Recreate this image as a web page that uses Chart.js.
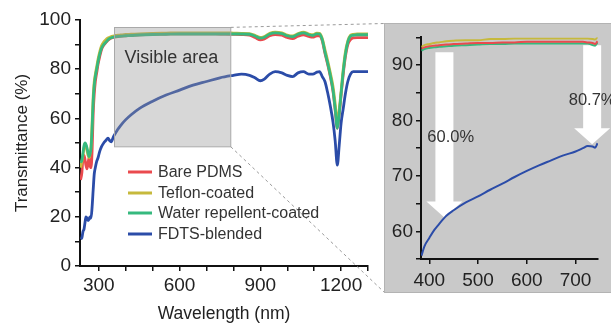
<!DOCTYPE html>
<html><head><meta charset="utf-8">
<script src="https://cdn.jsdelivr.net/npm/chart.js@4/dist/chart.umd.min.js"></script>
<style>
html,body{margin:0;padding:0;overflow:hidden;background:#fff;width:611px;height:325px}
#main{position:absolute;left:0;top:0}
#inset{position:absolute;left:384px;top:23px}
</style></head><body>
<canvas id="main" width="611" height="325"></canvas>
<canvas id="inset" width="240" height="270"></canvas>
<script>
// ---------- data (main panel) ----------
const wavelength = [232,237,241,245,249,252,256,260,264,267,271,275,279,283,287,292,297,303,310,318,326,334,340,346,354,362,370,380,400,420,450,500,550,600,650,700,750,800,830,860,880,900,915,935,955,980,1000,1020,1040,1060,1080,1095,1110,1120,1130,1140,1150,1160,1170,1178,1186,1193,1200,1208,1216,1225,1235,1245,1260,1280,1300];
const barePDMS = [35,38,44,45,43,41,39.5,42,44,41,40,47,62,70,75,78.5,82,85,88,89.7,90.8,91.8,92.3,92.6,92.9,93.1,93.2,93.4,93.6,93.8,94,94.2,94.3,94.4,94.4,94.4,94.3,94.2,94.1,93.8,92.9,91.9,92.3,93.6,94.1,93.8,92.9,92.4,93.4,94,93.3,93,93.6,93.5,91.5,86.5,82,77,71,63.5,56,61.5,69.5,78,85,90,92,92.7,92.8,92.8,92.8];
const teflon = [40,42.5,45,48,49.5,49,47,45,44,45.5,48.5,58,69,75,78,81,84,87,89.5,91,92,92.7,93,93.3,93.5,93.7,93.8,93.9,94.1,94.2,94.4,94.6,94.7,94.8,94.8,94.8,94.8,94.7,94.6,94.5,93.8,92.9,93.3,94.6,95.1,94.8,93.9,93.5,94.5,95.1,94.3,94,94.7,94.6,92.5,88,83.5,78.5,73,66,58.5,63.5,71,80,87,91.5,93.8,94.2,94.3,94.3,94.3];
const waterRepellent = [42,43,46,49,50,49.5,48,46,44.5,45.5,48,56,67,73.5,77,80,83,86,88.5,90,91,92,92.5,92.8,93,93.2,93.3,93.4,93.6,93.7,93.9,94.1,94.2,94.3,94.3,94.3,94.3,94.3,94.3,94.2,93.5,92.6,93,94.3,94.8,94.5,93.6,93.2,94.2,94.8,94,93.7,94.4,94.3,92,87,82.5,77.5,71.5,64,56,62,70,79,86,91,93.5,93.8,94,94,94];
const fdtsBlended = [11,11.5,14,15,18,20,19.5,18.5,19,20,19.5,24,31,37.5,40,42.5,44,46.5,48.5,50,51,52,51,50.5,52.5,54,55.5,57,59.5,61.5,64,67,69.5,71.5,73.5,75,76.5,77.5,78,77.5,76.5,75.3,76,78,79,78.5,77.5,77,78.5,79,78,78,78.8,79,77,75,70.5,65,58.5,51,41,49,58,64,70,75,78,79,79,79,79];
const seriesNames = ['Bare PDMS','Teflon-coated','Water repellent-coated','FDTS-blended'];
const mainXLabels = [300,600,900,1200];
const mainYLabels = [0,20,40,60,80,100];
const visibleArea = [358, 790, 48.5, 97];   // [nm from, nm to, % from, % to]

// ---------- data (inset: visible area) ----------
const insetWavelength = [384,390,400,410,420,435,450,475,500,525,550,575,600,625,650,675,700,715,725,735,740,745];
const insetBare = [93.0,93.2,93.4,93.5,93.6,93.7,93.8,93.9,94.0,94.0,94.1,94.1,94.2,94.2,94.2,94.2,94.2,94.2,94.1,94.0,93.8,94.3];
const insetTeflon = [93.3,93.6,93.8,94.0,94.1,94.3,94.4,94.5,94.5,94.7,94.7,94.8,94.8,94.8,94.8,94.8,94.8,94.8,94.8,94.7,94.6,95.1];
const insetWater = [92.6,92.9,93.1,93.2,93.3,93.4,93.5,93.6,93.7,93.8,93.8,93.9,93.9,93.9,93.9,93.9,93.9,93.9,93.9,93.6,93.5,94.1];
const insetFdts = [55.6,57.3,58.8,60.2,61.3,62.8,63.8,65.2,66.3,67.5,68.6,69.8,70.9,71.9,72.8,73.7,74.4,75.0,75.4,75.3,75.1,75.9];
const insetXLabels = [400,500,600,700];
const insetYLabels = [60,70,80,90];
const arrowLabels = ['60.0%','80.7%'];
const arrowX = [431, 734];          // nm
const arrowTop = [92.3, 93.6];      // %
const arrowTip = [62.5, 75.7];      // %
const labelX = [396, 686];          // nm
const labelY = [77, 83.7];          // %

const colors = ['#ea4a4e','#c6b93c','#36b97e','#2b4ca8'];
const FONT = "'Liberation Sans', Arial, Helvetica, sans-serif";
Chart.defaults.font.family = FONT;

const pts = (xs, ys) => xs.map((x,i)=>({x, y: ys[i]}));
function makeSets(xs, arrs, w){
  const order = [2,1,0,0];
  return arrs.map((a,i)=>({label: seriesNames[i], data: pts(xs,a), borderColor: colors[i],
    borderWidth: w, pointRadius: 0, cubicInterpolationMode:'monotone', order: order[i], fill:false}));
}
function axisStyle(){
  return {border:{display:true,color:'#111',width:2},
          grid:{drawOnChartArea:false,drawTicks:true,color:'#111',tickColor:'#111',tickLength:5,lineWidth:1.5,tickWidth:1.5}};
}

const mainDecor = {
  id:'mainDecor',
  afterDatasetsDraw(chart){
    const {ctx, scales:{x,y}} = chart;
    const x0 = x.getPixelForValue(visibleArea[0]), x1 = x.getPixelForValue(visibleArea[1]);
    const yT = y.getPixelForValue(visibleArea[3]), yB = y.getPixelForValue(visibleArea[2]);
    ctx.save();
    ctx.fillStyle = 'rgba(150,150,150,0.38)';
    ctx.fillRect(x0, yT, x1-x0, yB-yT);
    ctx.strokeStyle = '#a9a9a9'; ctx.lineWidth = 1;
    ctx.strokeRect(Math.round(x0)+0.5, Math.round(yT)+0.5, x1-x0, yB-yT);
    ctx.fillStyle = '#333'; ctx.font = '18px '+FONT; ctx.textBaseline = 'middle'; ctx.textAlign='left';
    ctx.fillText('Visible area', x0+10, yT+31);
    ctx.setLineDash([3,3]); ctx.strokeStyle = '#9a9a9a'; ctx.lineWidth = 1;
    ctx.beginPath();
    ctx.moveTo(x1, yT); ctx.lineTo(384.5, 23.5);
    ctx.moveTo(x1, yB); ctx.lineTo(384.5, 292.5);
    ctx.stroke();
    ctx.setLineDash([]);
    // legend
    const rows = [172,193,213,234];
    ctx.font = '16px '+FONT; ctx.fillStyle = '#333';
    seriesNames.forEach((n,i)=>{
      ctx.strokeStyle = colors[i]; ctx.lineWidth = 3;
      ctx.beginPath(); ctx.moveTo(128, rows[i]); ctx.lineTo(152, rows[i]); ctx.stroke();
      ctx.fillText(n, 158, rows[i]+1);
    });
    ctx.restore();
  }
};

new Chart(document.getElementById('main'), {
  type:'line',
  data:{datasets: makeSets(wavelength,[barePDMS,teflon,waterRepellent,fdtsBlended],2.8)},
  options:{
    responsive:false, animation:false, devicePixelRatio:1,
    layout:{padding:{top:20,right:243,left:0,bottom:0}},
    plugins:{legend:{display:false},tooltip:{enabled:false}},
    scales:{
      x:{type:'linear',min:230,max:1300, ...axisStyle(),
         afterFit:(s)=>{s.height=59;},
         ticks:{stepSize:100,includeBounds:false,autoSkip:false,maxRotation:0,color:'#222',padding:3,font:{size:19}},
         title:{display:true,text:'Wavelength (nm)',color:'#222',font:{size:17.5},padding:{top:0,bottom:0}}},
      y:{type:'linear',min:0,max:100, ...axisStyle(),
         afterFit:(s)=>{s.width=80;},
         ticks:{stepSize:10,autoSkip:false,color:'#222',padding:4,font:{size:19}},
         title:{display:true,text:'Transmittance (%)',color:'#222',font:{size:17},padding:{top:12,bottom:0}}}
    }
  },
  plugins:[mainDecor]
});
// label filters (tick marks stay at every step)
(function(){
  const c = Chart.getChart('main');
  c.options.scales.x.ticks.callback = (v)=>mainXLabels.includes(v)?String(v):'';
  c.options.scales.y.ticks.callback = (v)=>mainYLabels.includes(v)?String(v):'';
  c.update('none');
})();

const insetDecor = {
  id:'insetDecor',
  beforeDraw(chart){
    const ctx = chart.ctx;
    ctx.save();
    ctx.fillStyle = '#c9c9c9';
    ctx.fillRect(0,0,chart.width,chart.height);
    ctx.strokeStyle = '#b3b3b3'; ctx.lineWidth = 1;
    ctx.strokeRect(0.5,0.5,chart.width+5,chart.height-1);
    ctx.restore();
  },
  beforeDatasetsDraw(chart){
    const {ctx, scales:{x,y}} = chart;
    ctx.save();
    ctx.fillStyle = '#ffffff';
    arrowX.forEach((ax,i)=>{
      const cx = x.getPixelForValue(ax), t = y.getPixelForValue(arrowTop[i]), tip = y.getPixelForValue(arrowTip[i]);
      const hy = tip - 16;
      ctx.beginPath();
      ctx.moveTo(cx-9, t); ctx.lineTo(cx+9, t); ctx.lineTo(cx+9, hy); ctx.lineTo(cx+18, hy);
      ctx.lineTo(cx, tip); ctx.lineTo(cx-18, hy); ctx.lineTo(cx-9, hy); ctx.closePath(); ctx.fill();
    });
    ctx.restore();
  },
  afterDatasetsDraw(chart){
    const {ctx, scales:{x,y}} = chart;
    ctx.save();
    ctx.fillStyle = '#333'; ctx.font = '16.5px '+FONT; ctx.textBaseline='middle'; ctx.textAlign='left';
    arrowLabels.forEach((t,i)=>ctx.fillText(t, x.getPixelForValue(labelX[i]), y.getPixelForValue(labelY[i])));
    ctx.restore();
  }
};

const insetOrder = [1,0,2,0];
new Chart(document.getElementById('inset'), {
  type:'line',
  data:{datasets: makeSets(insetWavelength,[insetBare,insetTeflon,insetWater,insetFdts],2).map((d,i)=>Object.assign(d,{order:insetOrder[i]}))},
  options:{
    responsive:false, animation:false, devicePixelRatio:1,
    layout:{padding:{top:11,right:26,left:0,bottom:0}},
    plugins:{legend:{display:false},tooltip:{enabled:false}},
    scales:{
      x:{type:'linear',min:383,max:746, ...axisStyle(),
         afterFit:(s)=>{s.height=34;},
         ticks:{stepSize:100,includeBounds:false,autoSkip:false,maxRotation:0,color:'#222',padding:5,font:{size:19},
                callback:(v)=>insetXLabels.includes(v)?String(v):''}},
      y:{type:'linear',min:55,max:95, ...axisStyle(),
         afterFit:(s)=>{s.width=37;},
         ticks:{stepSize:5,autoSkip:false,color:'#222',padding:3,font:{size:19},
                callback:(v)=>insetYLabels.includes(v)?String(v):''}}
    }
  },
  plugins:[insetDecor]
});
</script>
</body></html>
